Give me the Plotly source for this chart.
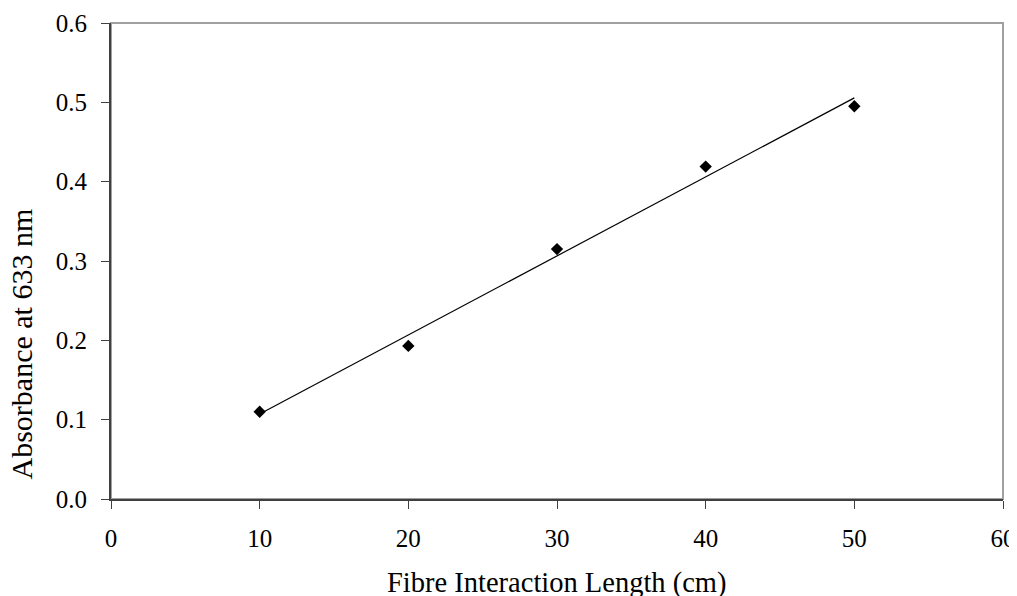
import numpy as np
import plotly.graph_objects as go

length_cm = [10, 20, 30, 40, 50]
absorbance = [0.110, 0.193, 0.315, 0.419, 0.495]
x_ticks = [0, 10, 20, 30, 40, 50, 60]
y_ticks = [0.0, 0.1, 0.2, 0.3, 0.4, 0.5, 0.6]
x_title = "Fibre Interaction Length (cm)"
y_title = "Absorbance at 633 nm"

slope, intercept = np.polyfit(length_cm, absorbance, 1)
fit_x = [min(length_cm), max(length_cm)]
fit_y = [slope * v + intercept for v in fit_x]

fig = go.Figure()
fig.add_trace(go.Scatter(x=fit_x, y=fit_y, mode="lines",
                         line=dict(color="black", width=1.2), showlegend=False))
fig.add_trace(go.Scatter(x=length_cm, y=absorbance, mode="markers",
                         marker=dict(symbol="diamond", size=9.5, color="black"),
                         showlegend=False))

font = "Liberation Serif"
fig.update_layout(
    width=1009, height=588,
    margin=dict(l=103, r=14, t=15, b=97, autoexpand=False),
    paper_bgcolor="white", plot_bgcolor="white",
    font=dict(family=font, size=25, color="black"),
    shapes=[dict(type="rect", xref="x domain", yref="y domain", x0=0, x1=1, y0=0, y1=1,
                 line=dict(color="#a0a0a0", width=2), layer="below")],
    annotations=[
        dict(text=x_title, xref="paper", yref="paper", x=0.5, y=-0.1765,
             xanchor="center", yanchor="middle", showarrow=False,
             font=dict(family=font, size=28.5, color="black")),
        dict(text=y_title, xref="paper", yref="paper", x=-0.1009, y=0.3267,
             xanchor="center", yanchor="middle", showarrow=False, textangle=-90,
             font=dict(family=font, size=30, color="black")),
    ],
)
fig.update_xaxes(range=[0, 60], tickvals=x_ticks, ticktext=[str(v) for v in x_ticks],
                 showgrid=False, zeroline=False, showline=True, linecolor="#404040",
                 linewidth=2, ticks="outside", ticklen=8, tickcolor="#404040", tickwidth=1,
                 ticklabelstandoff=8)
fig.update_yaxes(range=[0, 0.6], tickvals=y_ticks, ticktext=[f"{v:.1f}" for v in y_ticks],
                 showgrid=False, zeroline=False, showline=True, linecolor="#404040",
                 linewidth=2, ticks="outside", ticklen=8, tickcolor="#404040", tickwidth=1,
                 ticklabelstandoff=9)

fig.write_html("out.html")
